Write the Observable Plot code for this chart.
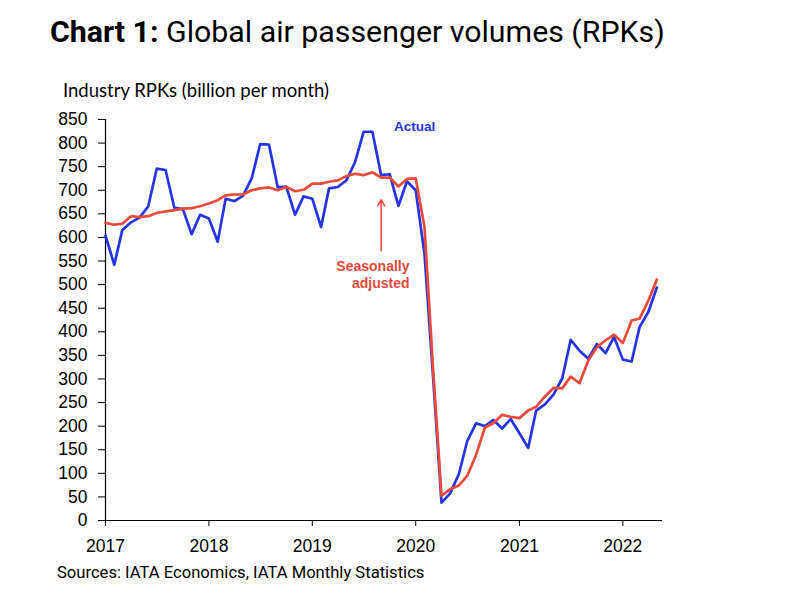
<!DOCTYPE html>
<html><head><meta charset="utf-8">
<script src="https://cdn.jsdelivr.net/npm/d3@7"></script>
<script src="https://cdn.jsdelivr.net/npm/@observablehq/plot@0.6"></script>
<style>
body{margin:0;background:#fff;width:801px;height:615px;overflow:hidden;position:relative;}
#title{position:absolute;left:50px;top:16.8px;font-family:Roboto;font-size:30.3px;color:#000;white-space:nowrap;line-height:1}
#title b{font-weight:700}
#subtitle{position:absolute;left:63px;top:81px;font-family:Lato;font-size:18.5px;color:#000;white-space:nowrap;line-height:1}
#chart{position:absolute;left:0;top:100px}
#source{position:absolute;left:57px;top:565.3px;font-family:Roboto;font-size:16.6px;color:#000;white-space:nowrap;line-height:1}
</style>
</head><body>
<div id="title"><b>Chart 1:</b> Global air passenger volumes (RPKs)</div>
<div id="subtitle">Industry RPKs (billion per month)</div>
<div id="chart"></div>
<div id="source">Sources: IATA Economics, IATA Monthly Statistics</div>
<script>
// Monthly series, Jan 2017 – May 2022
const startMonth = "2017-01";
const actual = [
  604, 542, 615, 632, 642, 666, 746, 743, 663, 660, 607, 648,
  640, 591, 682, 677, 688, 725, 798, 797, 706, 708, 648, 687,
  682, 622, 704, 707, 721, 760, 824, 824, 732, 734, 667, 719,
  700, 565, 315, 38, 57, 98, 169, 206, 200, 213, 195, 215,
  185, 154, 233, 246, 267, 301, 383, 360, 343, 374, 355, 389,
  341, 337, 410, 442, 494
];
const seasonallyAdjusted = [
  631, 627, 629, 645, 643, 645, 652, 655, 658, 661, 662, 666,
  672, 679, 689, 691, 691, 700, 704, 706, 700, 707, 698, 701,
  714, 714, 718, 721, 730, 735, 732, 738, 727, 727, 708, 724,
  725, 622, 333, 52, 66, 74, 95, 139, 197, 206, 224, 220,
  217, 233, 241, 263, 281, 280, 305, 291, 339, 367, 382, 394,
  376, 424, 428, 466, 511
];
const yTicks = [0,50,100,150,200,250,300,350,400,450,500,550,600,650,700,750,800,850];
const xTickYears = ["2017","2018","2019","2020","2021","2022"];
const labelActual = [{date: "2019-10-16", value: 835, text: "Actual"}];
const labelSA = [{date: "2019-12-10", value: 523, text: "Seasonally\nadjusted"}];
const arrowSA = [{date: "2019-09-01", from: 572, to: 680}];

const blue = "#2634e2";
const red = "#e84a3c";

const parse = d3.utcParse("%Y-%m");
const t0 = parse(startMonth);
const rows = actual.map((v, i) => ({
  date: d3.utcMonth.offset(t0, i),
  actual: v,
  sa: seasonallyAdjusted[i]
}));
const pd = d3.utcParse("%Y-%m-%d");
const xDomain = [t0, pd("2022-05-21")];

const chart = Plot.plot({
  width: 801,
  height: 460,
  marginLeft: 105,
  marginRight: 139,
  marginTop: 19,
  marginBottom: 40,
  x: {type: "utc", domain: xDomain},
  y: {domain: [0, 850]},
  style: {fontFamily: "'Liberation Sans', Arial, sans-serif", fontSize: "17.5px", color: "#000", background: "#fff", overflow: "visible"},
  marks: [
    Plot.axisY({ticks: yTicks, tickSize: 7, tickPadding: 11, label: null, tickFormat: d => String(d)}),
    Plot.axisX({ticks: xTickYears.map(y => d3.utcParse("%Y")(y)), tickSize: 6, tickPadding: 13, label: null, tickFormat: d3.utcFormat("%Y")}),
    Plot.ruleX([t0], {y1: 0, y2: 850, stroke: "#000", strokeWidth: 1.2}),
    Plot.ruleY([0], {stroke: "#000", strokeWidth: 1.2}),
    Plot.lineY(rows, {x: "date", y: "actual", stroke: blue, strokeWidth: 2.7}),
    Plot.lineY(rows, {x: "date", y: "sa", stroke: red, strokeWidth: 2.7}),
    Plot.arrow(arrowSA, {x: d => pd(d.date), y1: "from", y2: "to", stroke: red, strokeWidth: 1.5, headLength: 7}),
    Plot.text(labelActual, {x: d => pd(d.date), y: "value", text: "text", fill: blue, fontWeight: "bold", fontSize: 13.5, textAnchor: "start", fontFamily: "'Liberation Sans', Arial, sans-serif"}),
    Plot.text(labelSA, {x: d => pd(d.date), y: "value", text: "text", fill: red, fontWeight: "bold", fontSize: 14, textAnchor: "end", lineHeight: 1.25, fontFamily: "'Liberation Sans', Arial, sans-serif"})
  ]
});
document.getElementById("chart").appendChild(chart);
</script>
</body></html>
